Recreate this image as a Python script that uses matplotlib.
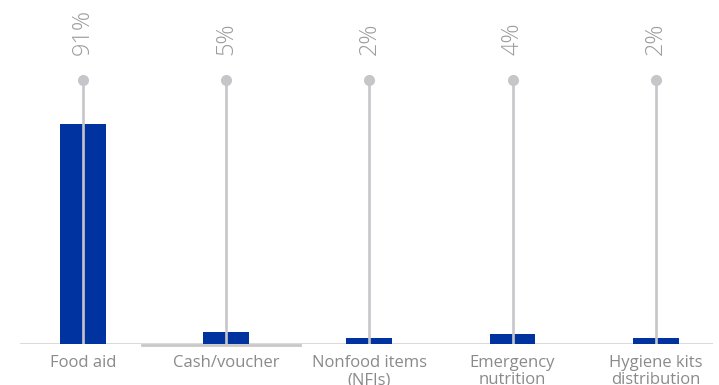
import matplotlib
matplotlib.use("Agg")
import matplotlib.pyplot as plt

categories = ["Food aid", "Cash/voucher", "Nonfood items\n(NFIs)", "Emergency\nnutrition", "Hygiene kits\ndistribution"]
values = [91, 5, 2.5, 4, 2.5]
labels = ["91%", "5%", "2%", "4%", "2%"]

BLUE = "#0033A0"
GREY_LINE = "#C6C6CA"
GREY_TEXT = "#9C9C9C"

W, H = 719, 385
fig = plt.figure(figsize=(W / 100, H / 100), dpi=100)
left, right = 20, 713
base_y = 344
ax = fig.add_axes([left / W, (H - base_y) / H, (right - left) / W, base_y / H])

px_per_unit = (344 - 124) / 91.0
ax.set_ylim(0, base_y / px_per_unit)
ax.set_xlim(-0.44, 4.4)

x = list(range(len(categories)))
ax.bar(x, values, width=0.32, color=BLUE, zorder=2)

stem_top = (344 - 80) / px_per_unit
label_y = (344 - 55) / px_per_unit
for xi, lab in zip(x, labels):
    ax.plot([xi, xi], [0, stem_top], color=GREY_LINE, lw=1.9, zorder=3, solid_capstyle="butt")
    ax.plot([xi], [stem_top], "o", color=GREY_LINE, ms=8, zorder=4, mec="none")
    ax.text(xi, label_y, lab, rotation=90, ha="center", va="bottom",
            fontsize=17, color=GREY_TEXT, family="Open Sans", fontweight="light")

ax.axhline(0, color="#D6D6D6", lw=2, zorder=1)
ax.plot([0.412, 1.516], [-0.5, -0.5], color="#C8C8C8", lw=2, zorder=1, clip_on=False)

ax.set_xticks(x)
ax.set_xticklabels(categories, fontsize=12, color="#8A8A8A", family="Open Sans", linespacing=1.1)
ax.tick_params(axis="x", length=0, pad=8)
ax.set_yticks([])
for s in ax.spines.values():
    s.set_visible(False)

fig.savefig("out.png", dpi=100)
